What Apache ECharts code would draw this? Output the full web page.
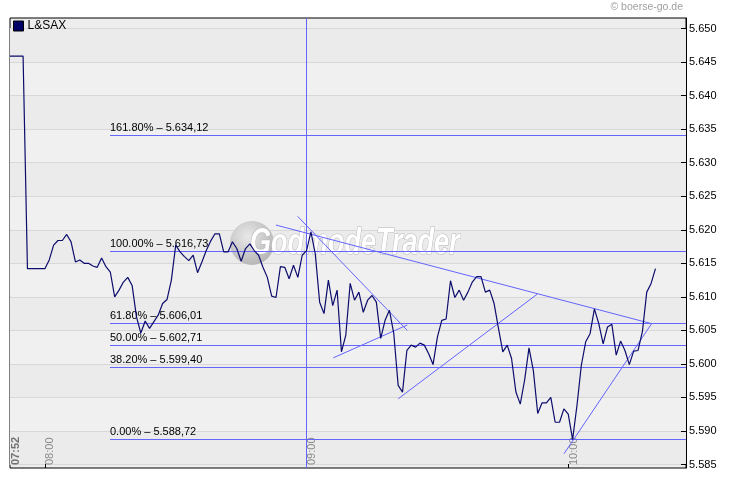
<!DOCTYPE html>
<html><head><meta charset="utf-8">
<script src="https://cdn.jsdelivr.net/npm/echarts@6/dist/echarts.min.js"></script>
<style>html,body{margin:0;padding:0;background:#fff}#c{width:730px;height:481px}</style>
</head><body><div id="c"></div>
<script>
const seriesName = 'L&SAX';
const times = [
 '07:52','07:55','07:56',
 '08:00','08:01','08:02','08:03','08:04','08:05','08:06','08:07','08:08','08:09',
 '08:10','08:11','08:12','08:13','08:14','08:15','08:16','08:17','08:18','08:19',
 '08:20','08:21','08:22','08:23','08:24','08:25','08:26','08:27','08:28','08:29',
 '08:30','08:31','08:32','08:33','08:34','08:35','08:36','08:37','08:38','08:39',
 '08:40','08:41','08:42','08:43','08:44','08:45','08:46','08:47','08:48','08:49',
 '08:50','08:51','08:52','08:53','08:54','08:55','08:56','08:57','08:58','08:59',
 '09:00','09:01','09:02','09:03','09:04','09:05','09:06','09:07','09:08','09:09',
 '09:10','09:11','09:12','09:13','09:14','09:15','09:16','09:17','09:18','09:19',
 '09:20','09:21','09:22','09:23','09:24','09:25','09:26','09:27','09:28','09:29',
 '09:30','09:31','09:32','09:33','09:34','09:35','09:36','09:37','09:38','09:39',
 '09:40','09:41','09:42','09:43','09:44','09:45','09:46','09:47','09:48','09:49',
 '09:50','09:51','09:52','09:53','09:54','09:55','09:56','09:57','09:58','09:59',
 '10:00','10:01','10:02','10:03','10:04','10:05','10:06','10:07','10:08','10:09',
 '10:10','10:11','10:12','10:13','10:14','10:15','10:16','10:17','10:18','10:19',
 '10:20'
];
const prices = [
 5645.9, 5645.9, 5614.2,
 5614.2, 5615.5, 5617.7, 5618.4, 5618.4, 5619.3, 5618.2, 5615.2, 5615.5, 5615.0,
 5615.0, 5614.6, 5614.4, 5615.8, 5614.5, 5613.7, 5610.0, 5611.0, 5612.2, 5612.9,
 5611.7, 5607.0, 5604.6, 5606.4, 5605.3, 5606.3, 5607.3, 5609.0, 5609.6, 5612.5,
 5617.7, 5616.7, 5616.0, 5615.4, 5616.2, 5613.6, 5615.2, 5616.9, 5618.3, 5619.4,
 5619.4, 5616.7, 5616.7, 5618.2, 5617.2, 5615.3, 5617.2, 5617.9, 5616.9, 5616.2,
 5614.4, 5612.9, 5610.1, 5609.9, 5614.5, 5614.4, 5612.7, 5614.7, 5612.9, 5616.2,
 5616.9, 5619.7, 5616.4, 5609.2, 5607.5, 5612.5, 5608.7, 5611.0, 5601.8, 5604.3,
 5612.0, 5609.5, 5610.7, 5607.7, 5609.5, 5610.2, 5609.2, 5603.8, 5606.5, 5608.0,
 5604.5, 5596.8, 5595.8, 5602.0, 5602.8, 5602.5, 5603.1, 5602.8, 5601.5, 5599.9,
 5604.0, 5606.5, 5606.7, 5612.4, 5609.9, 5611.0, 5609.5, 5610.7, 5612.2, 5613.0,
 5613.0, 5610.7, 5611.0, 5609.0, 5605.3, 5601.8, 5602.8, 5600.8, 5595.8, 5594.0,
 5597.6, 5602.4, 5599.0, 5592.6, 5594.2, 5594.2, 5595.0, 5591.3, 5591.3, 5593.3,
 5592.5, 5588.7, 5593.8, 5599.8, 5603.3, 5604.5, 5608.2, 5606.0, 5603.0, 5605.5,
 5605.9, 5601.3, 5603.4, 5602.0, 5599.9, 5601.9, 5602.0, 5604.8, 5610.7, 5612.0,
 5614.2
];
const yTicks = [5585,5590,5595,5600,5605,5610,5615,5620,5625,5630,5635,5640,5645,5650];
const xLabelTimes = ['07:52','08:00','09:00','10:00'];
const xTickTimes = ['08:00','09:00','10:00'];
const xStart = '07:52', xEnd = '10:27';
const yMin = 5584.48, yMax = 5651.57;

const fibPercents = ['161.80%','100.00%','61.80%','50.00%','38.20%','0.00%'];
const fibLevels = [5634.12, 5616.73, 5606.01, 5602.71, 5599.40, 5588.72];
const fibStartTime = '08:14:54';

const trendStartTimes = ['08:52:58','08:57:57','09:06:07','09:21:01','09:59:01'];
const trendStartValues = [5620.7, 5622.0, 5600.9, 5594.8, 5586.6];
const trendEndTimes = ['10:19:07','09:23:05','09:23:05','09:52:53','10:19:07'];
const trendEndValues = [5606.0, 5605.0, 5605.8, 5610.4, 5606.0];
const markerTime = '09:00';

function toMin(s){const p=s.split(':').map(Number);return p[0]*60+p[1]+(p[2]||0)/60;}
function hhmm(v){const h=Math.floor(v/60),m=Math.round(v-h*60);return String(h).padStart(2,'0')+':'+String(m).padStart(2,'0');}
function deNum(v){const t=Math.floor(v/1000);const r=(v-t*1000).toFixed(2).padStart(6,'0');return t+'.'+r.replace('.',',');}

const FONT = "'Liberation Sans', Arial, sans-serif";
const TREND = '#6464ff';
const crisp = (c)=>Math.floor(c)+0.5;

const mainData = times.map((t,i)=>[toMin(t), prices[i]]);
const trendSeries = trendStartTimes.map((t,i)=>({
  type:'line', silent:true, symbol:'none', animation:false,
  lineStyle:{color:TREND,width:1}, itemStyle:{color:TREND}, z:3,
  data:[[toMin(t),trendStartValues[i]],[toMin(trendEndTimes[i]),trendEndValues[i]]]
}));

// Fibonacci retracement levels: crisp horizontal lines + their labels
const fibSeries = {
  type:'custom', silent:true, animation:false, z:3, clip:false,
  data: fibLevels.map((lv,i)=>[toMin(fibStartTime), lv, toMin(xEnd), i]),
  renderItem:(params, api)=>{
    const i = api.value(3);
    const p1 = api.coord([api.value(0), api.value(1)]);
    const p2 = api.coord([api.value(2), api.value(1)]);
    const y = crisp(p1[1]);
    return {type:'group', children:[
      {type:'rect', shape:{x:Math.round(p1[0]), y:y-0.5, width:p2[0]-Math.round(p1[0]), height:1},
        style:{fill:TREND}},
      {type:'text', x:Math.round(p1[0]), y:y-2.5,
        style:{text: fibPercents[i]+' \u2013 '+deNum(fibLevels[i]), fill:'#000',
          font:"11px 'Liberation Sans', Arial, sans-serif", align:'left', verticalAlign:'bottom'}}
    ]};
  }
};
const markerSeries = {
  type:'custom', silent:true, animation:false, z:3, clip:false,
  data:[[toMin(markerTime), yMin, yMax]],
  renderItem:(params, api)=>{
    const p1 = api.coord([api.value(0), api.value(1)]);
    const p2 = api.coord([api.value(0), api.value(2)]);
    const x = crisp(p1[0]);
    return {type:'line', shape:{x1:x, y1:p1[1], x2:x, y2:p2[1]}, style:{stroke:TREND, lineWidth:1}};
  }
};

const chart = echarts.init(document.getElementById('c'), null, {renderer:'canvas'});
chart.setOption({
  animation:false,
  backgroundColor:'#fff',
  textStyle:{fontFamily:FONT},
  title:{text:'\u00a9 boerse-go.de', right:47, top:2, padding:0,
    textStyle:{fontSize:10.5, fontWeight:'normal', color:'#a0a0a0', fontFamily:FONT}},
  legend:{data:[seriesName], left:13, top:20, icon:'rect', itemWidth:10, itemHeight:10, itemGap:5,
    padding:0, itemStyle:{borderColor:'#000', borderWidth:1},
    textStyle:{fontSize:12, color:'#000', fontFamily:FONT, padding:[0,0,0,-1]}},
  grid:{left:10, right:44, top:18, bottom:13, show:true, borderColor:'#000', borderWidth:1,
    backgroundColor:'#ededed', containLabel:false},
  xAxis:{type:'value', min:toMin(xStart), max:toMin(xEnd), position:'bottom',
    axisLine:{show:false},
    axisTick:{show:true, inside:true, length:4, lineStyle:{color:'#000'}, customValues: xTickTimes.map(toMin)},
    axisLabel:{show:true, inside:true, rotate:90, margin:3, align:'left', verticalAlign:'top',
      customValues: xLabelTimes.map(toMin), color:'#8a8a8a', fontSize:11, fontFamily:FONT,
      formatter:(v)=> v===toMin(xStart) ? '{b|'+hhmm(v)+'}' : hhmm(v),
      rich:{b:{fontWeight:'bold', color:'#707070', fontSize:11, fontFamily:FONT}}},
    splitLine:{show:false}},
  yAxis:{type:'value', min:yMin, max:yMax, position:'right',
    axisLine:{show:true, lineStyle:{color:'#000'}},
    axisTick:{show:true, inside:true, length:5, lineStyle:{color:'#000'}, customValues:yTicks},
    axisLabel:{margin:3, color:'#000', fontSize:11, fontFamily:FONT, customValues:yTicks,
      formatter:(v)=> (v/1000).toFixed(3)},
    splitLine:{show:true, lineStyle:{color:'#d8d8d8', width:1}},
    splitArea:{show:true, areaStyle:{color:['#ebebeb','#f0f0f0']}}},
  graphic:[
    {type:'circle', z:1, silent:true, shape:{cx:252, cy:243, r:22},
      style:{fill:new echarts.graphic.RadialGradient(0.4,0.35,0.7,[{offset:0,color:'#e8e8e8'},{offset:1,color:'#b4b4b4'}])}},
    {type:'text', z:1, silent:true, x:250, y:244, scaleX:0.73,
      style:{text:'GodmodeTrader', font:"italic bold 37px 'Liberation Sans', Arial, sans-serif",
        fill:'#ffffff', stroke:'#b8b8b8', lineWidth:1.2, verticalAlign:'middle', align:'left',
        shadowColor:'rgba(0,0,0,0.35)', shadowBlur:2, shadowOffsetX:1, shadowOffsetY:3}}
  ],
  series:[
    {name:seriesName, type:'line', data:mainData, symbol:'none', z:4,
      lineStyle:{color:'#0c0c6c', width:1.2}, itemStyle:{color:'#000066'}},
    fibSeries,
    markerSeries,
    ...trendSeries
  ]
});
</script></body></html>
